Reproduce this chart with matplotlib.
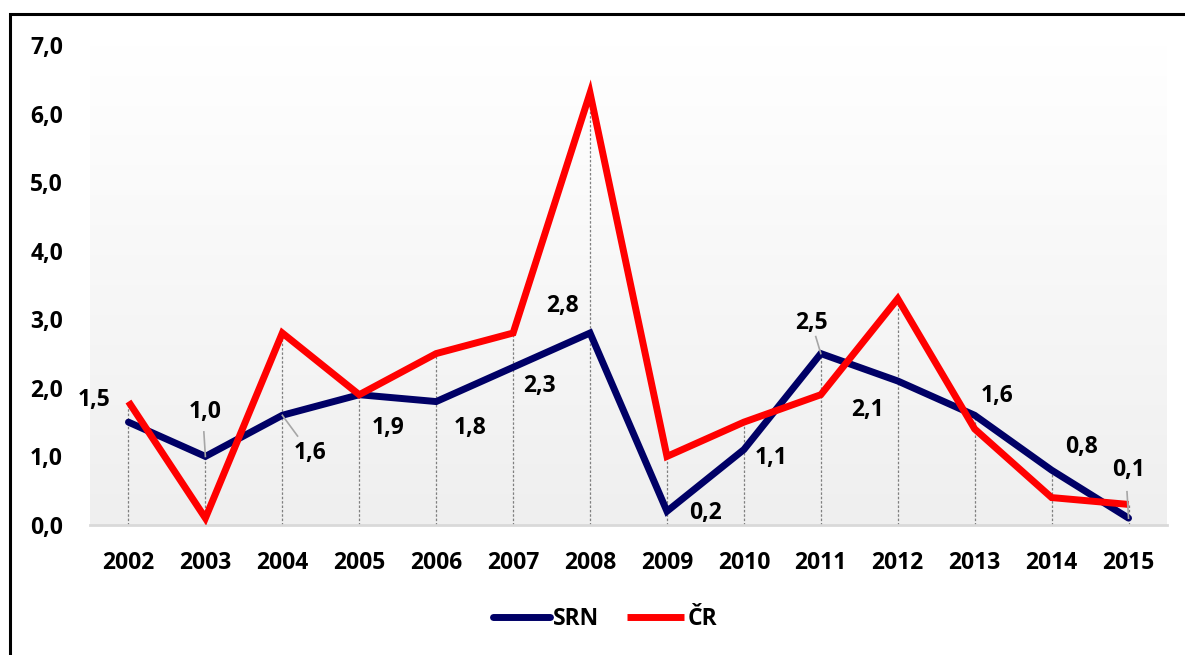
import matplotlib
matplotlib.use("Agg")
import matplotlib.pyplot as plt
import numpy as np
from matplotlib.patches import Rectangle
from matplotlib.lines import Line2D

years = ["2002", "2003", "2004", "2005", "2006", "2007", "2008",
         "2009", "2010", "2011", "2012", "2013", "2014", "2015"]
srn = [1.5, 1.0, 1.6, 1.9, 1.8, 2.3, 2.8, 0.2, 1.1, 2.5, 2.1, 1.6, 0.8, 0.1]
cr = [1.8, 0.1, 2.8, 1.9, 2.5, 2.8, 6.3, 1.0, 1.5, 1.9, 3.3, 1.4, 0.4, 0.3]
yticks = [0, 1, 2, 3, 4, 5, 6, 7]

# label offsets (data units) for SRN labels, and whether a leader line is drawn
lab_off = [(-0.45, 0.32), (0.0, 0.65), (0.36, -0.55), (0.38, -0.48), (0.44, -0.38),
           (0.34, -0.28), (-0.36, 0.40), (0.5, -0.03), (0.36, -0.13), (-0.12, 0.45),
           (-0.39, -0.42), (0.29, 0.28), (0.39, 0.34), (0.0, 0.70)]
leader = [False, True, True, False, False, False, False, False, False, True,
          False, False, False, True]

plt.rcParams['font.family'] = ['Open Sans', 'DejaVu Sans']
plt.rcParams['font.weight'] = 'bold'
FS = 16.5
W = 'bold'

fig = plt.figure(figsize=(11.85, 6.55), dpi=100)
ax = fig.add_axes([90 / 1185, 1 - 525 / 655, (1167 - 90) / 1185, (525 - 45) / 655])

x = np.arange(len(years))
ax.set_xlim(-0.5, len(years) - 0.5)
ax.set_ylim(0, 7)

# gradient background
grad = np.linspace(1, 0, 256).reshape(-1, 1)
top = np.array([1.0, 1.0, 1.0])
bot = np.array([0xef, 0xef, 0xef]) / 255
img = top * grad[..., None] + bot * (1 - grad[..., None])
img = np.repeat(img, 2, axis=1)
ax.imshow(img, extent=[-0.5, len(years) - 0.5, 0, 7], aspect='auto', zorder=0)

# drop lines
for xi, a, b in zip(x, srn, cr):
    ax.plot([xi, xi], [0, max(a, b)], color='#7f7f7f', lw=0.9, ls=(0, (2, 1.5)), zorder=1)

ax.plot(x, srn, color='#000066', lw=5, solid_joinstyle='miter', solid_capstyle='round', zorder=3)
ax.plot(x, cr, color='#ff0000', lw=5, solid_joinstyle='miter', solid_capstyle='butt', zorder=4)

for xi, v, (dx, dy), ld in zip(x, srn, lab_off, leader):
    ax.text(xi + dx, v + dy, f"{v:.1f}".replace('.', ','), ha='center', va='center',
            fontsize=FS, fontweight=W, color='black', zorder=6)
    if ld:
        ax.plot([xi, xi + dx * 0.55 if dx else xi - 0.02], [v, v + dy * 0.55], color='#a6a6a6', lw=1.2, zorder=5)

for s in ['top', 'right', 'left']:
    ax.spines[s].set_visible(False)
ax.spines['bottom'].set_color('#d9d9d9')
ax.spines['bottom'].set_linewidth(2)

ax.set_xticks(x)
ax.set_xticklabels(years, fontsize=FS, fontweight=W)
ax.set_yticks(yticks)
ax.set_yticklabels([f"{t:.1f}".replace('.', ',') for t in yticks], fontsize=FS, fontweight=W)
ax.tick_params(axis='both', length=0)
ax.tick_params(axis='x', pad=19)
ax.tick_params(axis='y', pad=19.5)

handles = [Line2D([], [], color='#000066', lw=5, solid_capstyle='round'),
           Line2D([], [], color='#ff0000', lw=5, solid_capstyle='butt')]
fig.legend(handles, ['SRN', 'ČR'], loc='center', bbox_to_anchor=(605 / 1185, 1 - 619 / 655),
           ncol=2, frameon=False, prop={'size': FS, 'weight': W},
           handlelength=2.5, handletextpad=0.15, columnspacing=1.2)

# outer frame
fig.patches.append(Rectangle((10 / 1185, -0.1), 1.2, 1 - 14 / 655 + 0.1, transform=fig.transFigure,
                             fill=False, edgecolor='black', lw=2.2, zorder=10))

fig.savefig("out.png", dpi=100)
